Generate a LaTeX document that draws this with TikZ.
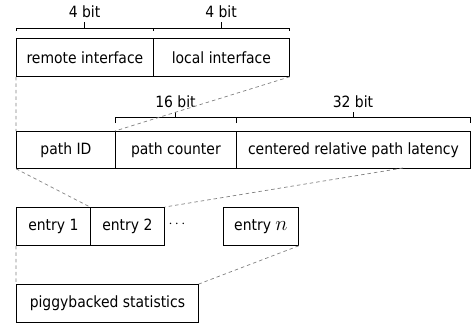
\documentclass[tikz,border=0pt]{standalone}
\usepackage{fontspec}
\setmainfont{DejaVu Sans Condensed}
\usepackage{tikz}

\begin{document}
\begin{tikzpicture}[x=1pt,y=-1pt,font=\fontsize{15.5}{18}\selectfont,
  field/.style={draw,line width=0.8pt,anchor=north west,inner sep=0pt},
  brace/.style={line width=0.8pt},
  link/.style={dashed,gray,line width=0.7pt,dash pattern=on 3.5pt off 3pt}]
  \useasboundingbox (0,0) rectangle (471,324);
  % interfaces
  \node[field,minimum width=137pt,minimum height=38pt] (ri) at (16,38) {remote interface};
  \node[field,minimum width=136pt,minimum height=38pt] (li) at (153,38) {local interface};
  \draw[brace] (16,31) -- (16,28) -- (153,28) -- (153,31) (84.5,28) -- (84.5,22); \node (b1) at (84.5,12) {4 bit};
  \draw[brace] (153,31) -- (153,28) -- (289,28) -- (289,31) (221,28) -- (221,22); \node (b2) at (221,12) {4 bit};
  % path entry
  \node[field,minimum width=99pt,minimum height=37pt] (pid) at (16,131) {path ID};
  \node[field,minimum width=121pt,minimum height=37pt] (pc) at (115,131) {path counter};
  \node[field,minimum width=234pt,minimum height=37pt] (lat) at (236,131) {centered relative path latency};
  \draw[brace] (115,123) -- (115,117) -- (236,117) -- (236,123) (175.5,117) -- (175.5,112); \node (b3) at (175.5,102) {16 bit};
  \draw[brace] (236,123) -- (236,117) -- (470,117) -- (470,123) (353,117) -- (353,112); \node (b4) at (353,102) {32 bit};
  % entries
  \node[field,minimum width=74pt,minimum height=38pt] (e1) at (16,207) {entry 1};
  \node[field,minimum width=74pt,minimum height=38pt] (e2) at (90,207) {entry 2};
  \node (dots) at (177,224) {$\cdots$};
  \node[field,minimum width=75pt,minimum height=38pt] (en) at (223,207) {entry {\fontsize{20.74}{22}\selectfont$n$}};
  \node[field,minimum width=182pt,minimum height=38pt] (pb) at (16,284) {piggybacked statistics};
  \coordinate (lcut) at (403,168);
  \draw[link] (ri.south west) -- (pid.north west) (li.south east) -- (pc.north west);
  \draw[link] (pid.south west) -- (e2.north west) (lcut) -- (e2.north east);
  \draw[link] (e1.south west) -- (pb.north west) (en.south east) -- (pb.north east);
\end{tikzpicture}
\end{document}
